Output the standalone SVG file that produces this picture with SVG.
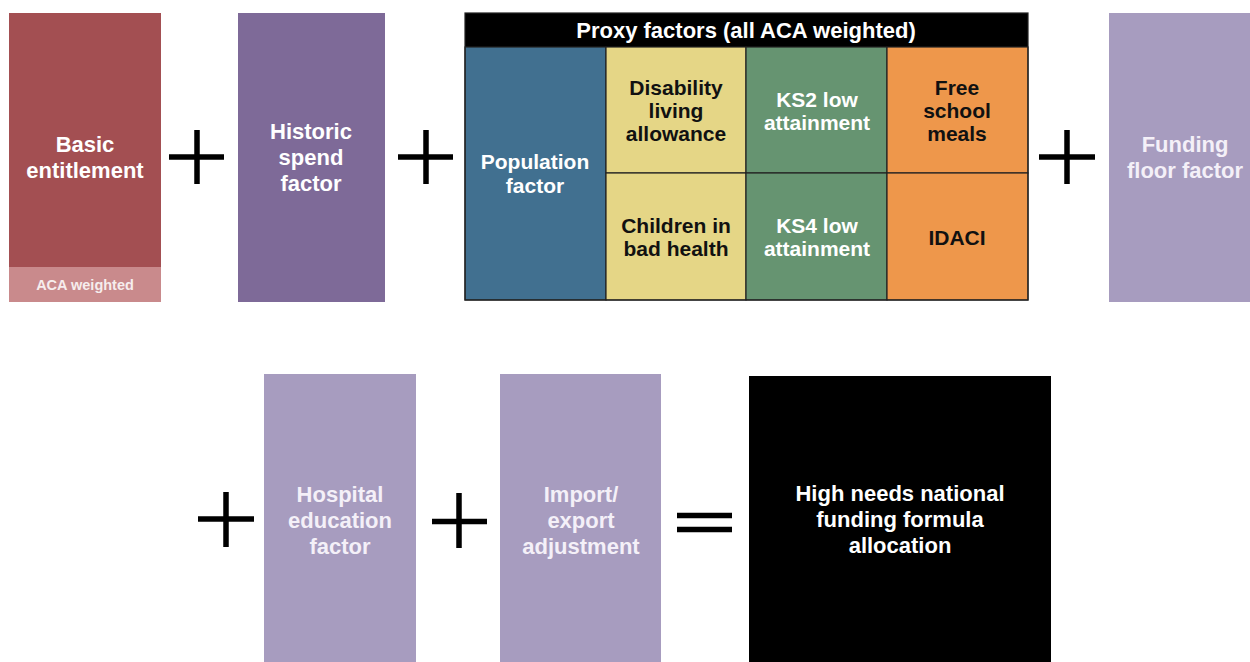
<svg xmlns="http://www.w3.org/2000/svg" width="1250" height="662" viewBox="0 0 1250 662">
<style>
text{font-family:"Liberation Sans",Arial,sans-serif;font-weight:bold;text-anchor:middle}
.w{fill:#ffffff;font-size:22px}
.wl{fill:#F4F0F8;font-size:22px}
.b{fill:#111111;font-size:21px}
.g{fill:#ffffff;font-size:21px}
.op{stroke:#000;stroke-width:5.5;fill:none}
.cell{stroke:#222;stroke-width:1.2}
</style>
<rect width="1250" height="662" fill="#ffffff"/>
<g id="basic">
<rect x="9" y="13" width="152" height="254" fill="#A34F52"/>
<rect x="9" y="267" width="152" height="35" fill="#C98A8C"/>
<text class="w" x="85" y="152">Basic</text>
<text class="w" x="85" y="178">entitlement</text>
<text x="85" y="290" style="fill:#F6EDED;font-size:14.5px">ACA weighted</text>
</g>
<g id="historic">
<rect x="238" y="13" width="147" height="289" fill="#7E6A98"/>
<text class="w" x="311" y="139">Historic</text>
<text class="w" x="311" y="165">spend</text>
<text class="w" x="311" y="191">factor</text>
</g>
<g id="proxy">
<rect x="465" y="13" width="563" height="34" fill="#000"/>
<text class="w" x="746" y="38">Proxy factors (all ACA weighted)</text>
<rect class="cell" x="465" y="47" width="141" height="253" fill="#417090"/>
<text class="g" x="535" y="169">Population</text>
<text class="g" x="535" y="193">factor</text>
<rect class="cell" x="606" y="47" width="140" height="126" fill="#E5D686"/>
<text class="b" x="676" y="95">Disability</text>
<text class="b" x="676" y="118">living</text>
<text class="b" x="676" y="141">allowance</text>
<rect class="cell" x="606" y="173" width="140" height="127" fill="#E5D686"/>
<text class="b" x="676" y="233">Children in</text>
<text class="b" x="676" y="256">bad health</text>
<rect class="cell" x="746" y="47" width="141" height="126" fill="#669471"/>
<text class="g" x="817" y="107">KS2 low</text>
<text class="g" x="817" y="130">attainment</text>
<rect class="cell" x="746" y="173" width="141" height="127" fill="#669471"/>
<text class="g" x="817" y="233">KS4 low</text>
<text class="g" x="817" y="256">attainment</text>
<rect class="cell" x="887" y="47" width="141" height="126" fill="#EE974B"/>
<text class="b" x="957" y="95">Free</text>
<text class="b" x="957" y="118">school</text>
<text class="b" x="957" y="141">meals</text>
<rect class="cell" x="887" y="173" width="141" height="127" fill="#EE974B"/>
<text class="b" x="957" y="245">IDACI</text>
<rect x="465" y="13" width="563" height="287" fill="none" stroke="#222" stroke-width="1.2"/>
</g>
<g id="floor">
<rect x="1109" y="13" width="141" height="289" fill="#A79CBF"/>
<text class="wl" x="1185" y="152">Funding</text>
<text class="wl" x="1185" y="178">floor factor</text>
</g>
<g id="hospital">
<rect x="264" y="374" width="152" height="288" fill="#A79CBF"/>
<text class="wl" x="340" y="502">Hospital</text>
<text class="wl" x="340" y="528">education</text>
<text class="wl" x="340" y="554">factor</text>
</g>
<g id="importexport">
<rect x="500" y="374" width="161" height="288" fill="#A79CBF"/>
<text class="wl" x="581" y="502">Import/</text>
<text class="wl" x="581" y="528">export</text>
<text class="wl" x="581" y="554">adjustment</text>
</g>
<g id="result">
<rect x="749" y="376" width="302" height="286" fill="#000"/>
<text class="w" x="900" y="501">High needs national</text>
<text class="w" x="900" y="527">funding formula</text>
<text class="w" x="900" y="553">allocation</text>
</g>
<g id="operators">
<path class="op" d="M169 157H224M197 130V184"/>
<path class="op" d="M398 157H453M426 130V184"/>
<path class="op" d="M1039 157H1095M1067 130V184"/>
<path class="op" d="M198 519H254M226 492V547"/>
<path class="op" d="M432 521.5H487M459 493V548"/>
<path class="op" d="M677 515.5H732M677 529.5H732"/>
</g>
</svg>
